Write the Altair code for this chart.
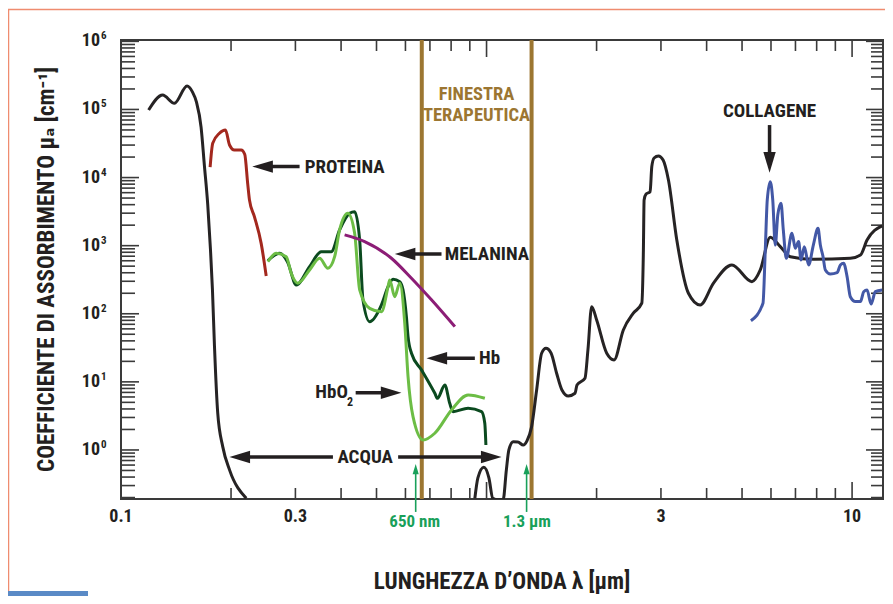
import altair as alt
import pandas as pd
import math

# ---------------- data ----------------
WATER_UV_X = [0.119, 0.130, 0.140, 0.1516, 0.1568, 0.1608, 0.1656, 0.1691, 0.1727, 0.1757,
              0.1779, 0.1802, 0.1839, 0.1898, 0.1981, 0.2201]
WATER_UV_Y = [9.8e4, 1.63e5, 1.23e5, 2.21e5, 1.81e5, 1.29e5, 5.5e4, 1.5e4, 4.0e3, 870,
              225, 33, 3.5, 1.12, 0.51, 0.195]

WATER_IR_X = [0.929, 0.947, 0.983, 1.015, 1.040, 1.074, 1.110, 1.133, 1.151, 1.183,
              1.218, 1.260, 1.290, 1.328, 1.371, 1.415, 1.454, 1.501, 1.555, 1.608,
              1.674, 1.746, 1.768, 1.859, 1.894, 1.939, 2.001, 2.132, 2.233, 2.367,
              2.521, 2.659, 2.686, 2.698, 2.732, 2.802, 2.832, 2.873, 2.952, 3.041,
              3.145, 3.315, 3.567, 3.840, 4.177, 4.691, 5.321, 5.609, 5.972, 6.362,
              6.776, 7.850, 9.893, 10.54, 10.99, 12.08]
WATER_IR_Y = [0.195, 0.39, 0.557, 0.39, 0.195, 0.185, 0.185, 0.51, 1.0, 1.32,
              1.31, 1.18, 1.36, 2.18, 7.6, 26.3, 31.1, 26.6, 13.4, 7.6,
              6.2, 6.8, 9.0, 11.3, 29.4, 127, 81, 26.3, 21, 57.8,
              102, 143, 865, 4690, 5740, 6200, 14500, 19400, 20800, 18100,
              9200, 1210, 200, 135, 281, 521, 296, 440, 1330, 967,
              689, 631, 653, 730, 1210, 1950]

PROT_X = [0.1753, 0.1782, 0.1859, 0.1931, 0.1981, 0.2043, 0.2132, 0.2180, 0.2222, 0.2246,
          0.2317, 0.2418, 0.2496]
PROT_Y = [1.42e4, 3.19e4, 4.48e4, 5.0e4, 3.01e4, 2.54e4, 2.54e4, 2.2e4, 8.0e3, 4.7e3,
          2.67e3, 1.08e3, 359]

HB_X = [0.2522, 0.2715, 0.2855, 0.3016, 0.3280, 0.3531, 0.3760, 0.3963, 0.4220, 0.4357,
        0.4497, 0.4591, 0.4789, 0.5159, 0.5378, 0.5548, 0.5788, 0.5909, 0.6036, 0.6099,
        0.6232, 0.6637, 0.722, 0.734, 0.769, 0.793, 0.810, 0.890, 0.969, 0.989, 0.996]
HB_Y = [602, 773, 576, 265, 492, 817, 817, 1700, 2990, 3160,
        1210, 160, 76.6, 135, 250, 321, 296, 224, 90.7, 46.1,
        26.3, 15, 6.8, 5.74, 9.0, 4.85, 3.65, 4.10, 3.65, 2.47, 1.18]

HBO2_X = [0.2522, 0.2659, 0.2832, 0.2922, 0.3047, 0.3280, 0.3494, 0.3681, 0.3841, 0.3963,
          0.4175, 0.4357, 0.4497, 0.4789, 0.5159, 0.5378, 0.5433, 0.5608, 0.5788, 0.5974,
          0.6099, 0.6293, 0.6705, 0.7218, 0.8021, 0.8904, 0.9893]
HBO2_Y = [582, 773, 689, 393, 281, 440, 653, 466, 689, 1700,
          2990, 1520, 224, 120, 107, 250, 314, 178, 281, 72.5,
          11.9, 3.08, 1.40, 1.76, 3.87, 6.42, 5.74]

MEL_X = [0.4090, 0.4640, 0.5492, 0.6232, 0.7068, 0.8189]
MEL_Y = [1440, 1150, 653, 332, 160, 64.7]

COLL_X = [5.288, 5.705, 5.788, 5.861, 5.972, 6.067, 6.165, 6.262, 6.391, 6.484,
          6.607, 6.848, 6.993, 7.140, 7.249, 7.402, 7.605, 7.834, 8.068, 8.188,
          8.328, 8.45, 8.72, 9.10, 9.29, 9.48, 9.69, 9.89, 10.21, 10.54,
          10.76, 10.99, 11.27, 11.58, 12.08]
COLL_Y = [79, 143, 865, 4690, 8700, 4690, 1020, 2820, 4200, 1700,
          653, 1520, 916, 1150, 617, 967, 521, 1020, 1800, 1020,
          689, 440, 384, 402, 521, 552, 351, 178, 151, 151,
          211, 224, 139, 211, 224]

WINDOW_X = [0.665, 1.328]

X_LABEL_VALUES = [0.1, 0.3, 3, 10]
X_LABEL_TEXT = ["0.1", "0.3", "3", "10"]
Y_LABEL_VALUES = [1, 10, 100, 1e3, 1e4, 1e5, 1e6]
Y_LABEL_EXP = ["0", "1", "2", "3", "4", "5", "6"]

X_MINOR = [0.2, 0.3, 0.4, 0.5, 0.6, 0.7, 0.8, 0.9, 2, 3, 4, 5, 6, 7, 8, 9]
X_MAJOR = [1, 10]
Y_MULT = [2, 3, 4, 5, 6, 7, 8, 9]
Y_DECADES = [-1, 0, 1, 2, 3, 4, 5]

# black annotation arrows: tip and tail in data units
ARR_NAME = ["proteina", "melanina", "hb", "hbo2", "acqua_l", "acqua_r", "collagene"]
ARR_TIP_X = [0.2286, 0.561, 0.685, 0.585, 0.198, 1.099, 5.946]
ARR_TIP_Y = [1.45e4, 755, 22.2, 6.93, 0.789, 0.789, 1.18e4]
ARR_TAIL_X = [0.308, 0.753, 0.929, 0.4385, 0.380, 0.573, 5.946]
ARR_TAIL_Y = [1.45e4, 755, 22.2, 6.93, 0.789, 0.789, 5.9e4]
ARR_DIR = ["left", "left", "left", "right", "left", "right", "down"]

# green arrows
GARR_X = [0.640, 1.287]
GARR_TIP_Y = [0.62, 0.62]
GARR_TAIL_Y = [0.123, 0.123]

# labels
LBL_LEFT = ["PROTEINA", "MELANINA", "Hb"]
LBL_LEFT_X = [0.318, 0.769, 0.954]
LBL_LEFT_Y = [1.45e4, 755, 22.2]
LBL_CENTER = ["ACQUA", "COLLAGENE"]
LBL_CENTER_X = [0.4656, 5.946]
LBL_CENTER_Y = [0.776, 9.5e4]
WIN_LBL = ["FINESTRA", "TERAPEUTICA"]
WIN_LBL_X = [0.939, 0.939]
WIN_LBL_Y = [1.67e5, 8.4e4]
GREEN_LBL = ["650 nm", "1.3 \u03bcm"]
GREEN_LBL_X = [0.636, 1.29]
GREEN_LBL_Y = [0.0865, 0.0865]

# ---------------- style ----------------
W, H = 762, 459
X_DOM = [0.1, 12.15]
Y_DOM = [0.1905, 1.047e6]
X_SCALE = alt.Scale(type="log", domain=X_DOM, nice=False)
Y_SCALE = alt.Scale(type="log", domain=Y_DOM, nice=False)
FONT = "Liberation Sans Narrow, Arial Narrow, Roboto Condensed, DejaVu Sans Condensed, sans-serif"
INK = "#231f20"
AXC = "#3a3a3a"
GOLD = "#9c7631"
GREEN = "#19a05a"

PX_DEC_X = W / (math.log10(X_DOM[1]) - math.log10(X_DOM[0]))
PX_DEC_Y = H / (math.log10(Y_DOM[1]) - math.log10(Y_DOM[0]))


def X(field="wl"):
    return alt.X(f"{field}:Q", scale=X_SCALE, axis=None)


def Y(field="mu"):
    return alt.Y(f"{field}:Q", scale=Y_SCALE, axis=None)


one = pd.DataFrame({"k": [0]})
layers = []

# outer decorations (page border and caption box)
layers.append(alt.Chart(one).mark_rule(color="#ef8c6f", strokeWidth=1.5).encode(
    x=alt.value(-112.5), y=alt.value(-30.5), y2=alt.value(551)))
layers.append(alt.Chart(one).mark_rule(color="#ef8c6f", strokeWidth=1.5).encode(
    x=alt.value(-113), x2=alt.value(764), y=alt.value(-30.5)))
layers.append(alt.Chart(one).mark_rect(color="#5a8ac6").encode(
    x=alt.value(-113), x2=alt.value(-33), y=alt.value(551), y2=alt.value(556)))


# ticks (inward, all four sides)
def xt(vals, length):
    df = pd.DataFrame({"wl": vals})
    b = alt.Chart(df).mark_rule(color=AXC, strokeWidth=1.6)
    return [b.encode(x=X(), y=alt.value(H), y2=alt.value(H - length)),
            b.encode(x=X(), y=alt.value(0), y2=alt.value(length))]


def yt(vals, lenl, lenr):
    df = pd.DataFrame({"mu": vals})
    b = alt.Chart(df).mark_rule(color=AXC, strokeWidth=1.6)
    return [b.encode(y=Y(), x=alt.value(0), x2=alt.value(lenl)),
            b.encode(y=Y(), x=alt.value(W), x2=alt.value(W - lenr))]


y_minor = [m * 10 ** d for d in Y_DECADES for m in Y_MULT if Y_DOM[0] <= m * 10 ** d <= Y_DOM[1]]
layers += xt(X_MINOR, 11) + xt(X_MAJOR, 17)
layers += yt(y_minor, 14, 12) + yt(Y_LABEL_VALUES, 18, 17)

# therapeutic window
layers.append(alt.Chart(pd.DataFrame({"wl": WINDOW_X})).mark_rule(color=GOLD, strokeWidth=4).encode(
    x=X(), y=alt.value(0), y2=alt.value(H)))

# curves
curves = [
    (WATER_UV_X, WATER_UV_Y, "#262324"),
    (WATER_IR_X, WATER_IR_Y, "#262324"),
    (PROT_X, PROT_Y, "#a3281e"),
    (HB_X, HB_Y, "#0b4a1f"),
    (HBO2_X, HBO2_Y, "#6cbd45"),
    (MEL_X, MEL_Y, "#8c1d76"),
    (COLL_X, COLL_Y, "#4358a6"),
]
for xs, ys, col in curves:
    df = pd.DataFrame({"wl": xs, "mu": ys, "i": list(range(len(xs)))})
    layers.append(alt.Chart(df).mark_line(color=col, strokeWidth=3, clip=True,
                                          interpolate="monotone").encode(
        x=X(), y=Y(), order="i:Q"))

# black arrows
SHAPES = {"left": "M0,0 L1,-0.3 L1,0.3 Z", "right": "M0,0 L-1,-0.3 L-1,0.3 Z",
          "down": "M0,0 L-0.3,-1 L0.3,-1 Z", "up": "M0,0 L-0.3,1 L0.3,1 Z"}


def back(tx, ty, d, px):
    if d == "left":
        return tx * 10 ** (px / PX_DEC_X), ty
    if d == "right":
        return tx / 10 ** (px / PX_DEC_X), ty
    if d == "down":
        return tx, ty * 10 ** (px / PX_DEC_Y)
    return tx, ty / 10 ** (px / PX_DEC_Y)


ends = [back(x, y, d, 10) for x, y, d in zip(ARR_TIP_X, ARR_TIP_Y, ARR_DIR)]
arr = pd.DataFrame({"name": ARR_NAME, "x1": ARR_TAIL_X, "y1": ARR_TAIL_Y,
                    "x2": [e[0] for e in ends], "y2": [e[1] for e in ends],
                    "wl": ARR_TIP_X, "mu": ARR_TIP_Y,
                    "shape": [SHAPES[d] for d in ARR_DIR]})
layers.append(alt.Chart(arr).mark_rule(color=INK, strokeWidth=3.5).encode(
    x=X("x1"), x2="x2:Q", y=Y("y1"), y2="y2:Q"))
layers.append(alt.Chart(arr).mark_point(filled=True, opacity=1, color=INK, size=1700, strokeWidth=0).encode(
    x=X(), y=Y(), shape=alt.Shape("shape:N", scale=None)))

# green arrows
gends = [back(x, y, "up", 5) for x, y in zip(GARR_X, GARR_TIP_Y)]
garr = pd.DataFrame({"wl": GARR_X, "mu": GARR_TIP_Y, "y1": GARR_TAIL_Y,
                     "y2": [e[1] for e in gends], "shape": [SHAPES["up"]] * 2})
layers.append(alt.Chart(garr).mark_rule(color=GREEN, strokeWidth=1.6).encode(
    x=X(), y=Y("y1"), y2="y2:Q"))
layers.append(alt.Chart(garr).mark_point(filled=True, opacity=1, color=GREEN, size=420, strokeWidth=0).encode(
    x=X(), y=Y(), shape=alt.Shape("shape:N", scale=None)))


def txt(labels, xs, ys, align="center", color=INK, size=19, dx=0, dy=0):
    df = pd.DataFrame({"label": labels, "wl": xs, "mu": ys})
    return alt.Chart(df).mark_text(align=align, baseline="middle", color=color, font=FONT,
                                   fontSize=size, fontWeight="bold", dx=dx, dy=dy).encode(
        x=X(), y=Y(), text="label:N")


layers.append(txt(LBL_LEFT, LBL_LEFT_X, LBL_LEFT_Y, align="left"))
layers.append(txt(LBL_CENTER, LBL_CENTER_X, LBL_CENTER_Y))
layers.append(txt(["HbO"], [0.4175], [6.98], align="right"))
layers.append(txt(["2"], [0.4234], [5.07], size=12))
layers.append(txt(WIN_LBL, WIN_LBL_X, WIN_LBL_Y, color=GOLD, size=18.5))
layers.append(txt(GREEN_LBL, GREEN_LBL_X, GREEN_LBL_Y, color=GREEN, size=17))

# axis labels
xl = pd.DataFrame({"wl": X_LABEL_VALUES, "label": X_LABEL_TEXT})
layers.append(alt.Chart(xl).mark_text(baseline="middle", font=FONT, fontSize=18, fontWeight="bold",
                                      color=INK).encode(x=X(), y=alt.value(H + 17.5), text="label:N"))
yl = pd.DataFrame({"mu": Y_LABEL_VALUES, "exp": Y_LABEL_EXP, "base": ["10"] * len(Y_LABEL_VALUES)})
layers.append(alt.Chart(yl).mark_text(align="right", baseline="middle", font=FONT, fontSize=18,
                                      fontWeight="bold", color=INK).encode(
    x=alt.value(-21), y=Y(), text="base:N"))
layers.append(alt.Chart(yl).mark_text(align="left", baseline="middle", font=FONT, fontSize=11,
                                      fontWeight="bold", color=INK, dy=-5).encode(
    x=alt.value(-20), y=Y(), text="exp:N"))

# titles
layers.append(alt.Chart(one).mark_text(baseline="middle", font=FONT, fontSize=23, fontWeight="bold",
                                       color=INK).encode(
    x=alt.value(W / 2), y=alt.value(541.5), text=alt.value("LUNGHEZZA D\u2019ONDA \u03bb [\u03bcm]")))
layers.append(alt.Chart(one).mark_text(baseline="middle", font=FONT, fontSize=23, fontWeight="bold",
                                       color=INK, angle=270).encode(
    x=alt.value(-74.5), y=alt.value(H / 2),
    text=alt.value("COEFFICIENTE DI ASSORBIMENTO \u03bc\u2090 [cm\u207b\u00b9]")))

chart = alt.layer(*layers).properties(
    width=W, height=H,
    padding={"left": 113, "top": 32, "right": 2, "bottom": 97},
    autosize=alt.AutoSizeParams(type="none"),
    background="white",
).configure_view(stroke=AXC, strokeWidth=2)

chart.save("out.html", embed_options={"renderer": "svg", "actions": False})
